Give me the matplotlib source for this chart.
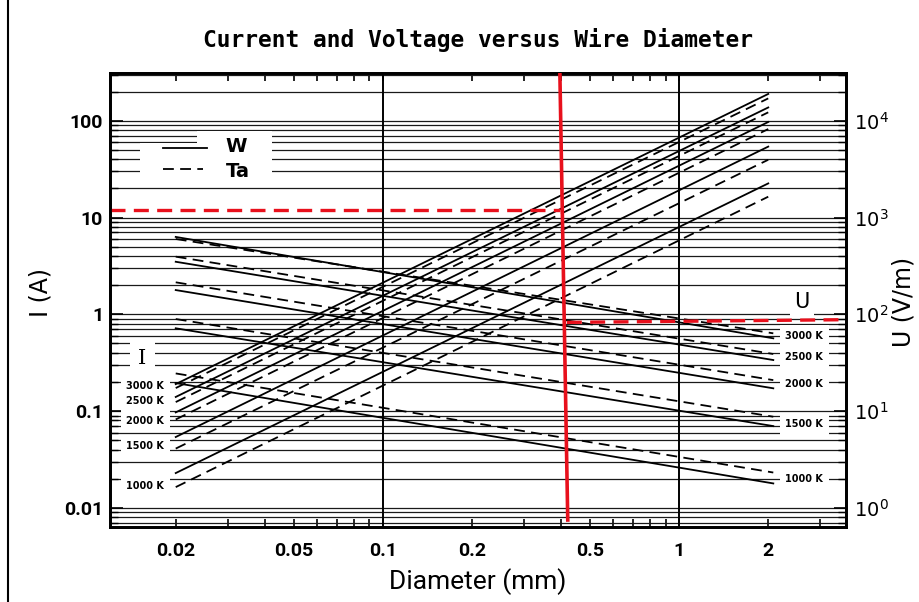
import numpy as np
import matplotlib
matplotlib.use('Agg')
import matplotlib.pyplot as plt
from matplotlib.ticker import LogLocator, NullFormatter
from matplotlib.lines import Line2D
from matplotlib.patches import Rectangle

# ---------------- data ----------------
temps = ['3000 K', '2500 K', '2000 K', '1500 K', '1000 K']

# current lines I (A): diameter end points (mm) and values at both ends
d_I = [0.02, 2.0]
I_W_start = [0.19, 0.14, 0.097, 0.054, 0.0229]
I_W_end = [189, 137, 97, 54, 22.5]
I_Ta_start = [0.173, 0.124, 0.082, 0.041, 0.0164]
I_Ta_end = [170, 122, 82, 39.5, 16.4]

# voltage lines U (V/m)
d_U = [0.02, 2.08]
U_W_start = [630, 349, 178, 71.7, 19.5]
U_W_end = [56.5, 33.7, 17.2, 7.0, 1.79]
U_Ta_start = [600, 394, 214, 89.4, 24.5]
U_Ta_end = [63.6, 38.9, 20.9, 8.75, 2.32]

# label positions (read)
I_label_d = 0.0158
I_label_vals = [0.1815, 0.127, 0.079, 0.0436, 0.0168]
U_label_d = 2.645
U_label_vals = [59.7, 36.0, 19.05, 7.31, 1.97]

# red reading marks
red_v_d = [0.396, 0.421]
red_v_I = [311, 0.0075]
red_I_d = [0.012, 0.396]
red_I_val = [12.0, 12.0]
red_U_d = [0.418, 3.66]
red_U_val = [82.5, 88.0]

x_lim = [0.012, 3.66]
y_lim = [0.00635, 311]
x_grid = [0.1, 1]
x_tick_vals = [0.02, 0.05, 0.1, 0.2, 0.5, 1, 2]
x_tick_labels = ['0.02', '0.05', '0.1', '0.2', '0.5', '1', '2']
y_tick_vals = [0.01, 0.1, 1, 10, 100]
y_tick_labels = ['0.01', '0.1', '1', '10', '100']
u_tick_vals = [1, 10, 100, 1000, 10000]
u_tick_labels = [r'$10^{0}$', r'$10^{1}$', r'$10^{2}$', r'$10^{3}$', r'$10^{4}$']

# ---------------- figure ----------------
W, H = 920, 602
fig = plt.figure(figsize=(W / 100, H / 100), dpi=100)
ax = fig.add_axes([110 / W, 75 / H, 736 / W, 454 / H])
ax.set_xscale('log')
ax.set_yscale('log')
ax.set_xlim(*x_lim)
ax.set_ylim(*y_lim)

ax2 = ax.twinx()
ax2.set_yscale('log')
ax2.set_ylim(y_lim[0] * 100, y_lim[1] * 100)

for sp in list(ax.spines.values()) + list(ax2.spines.values()):
    sp.set_linewidth(2.0)
    sp.set_color('black')

# grid
ax.set_axisbelow(True)
ax.yaxis.set_major_locator(LogLocator(base=10, numticks=20))
ax.yaxis.set_minor_locator(LogLocator(base=10, subs=np.arange(2, 10), numticks=20))
ax.yaxis.set_minor_formatter(NullFormatter())
ax.grid(True, axis='y', which='both', color='#1a1a1a', lw=0.9)
for v in x_grid:
    ax.axvline(v, color='black', lw=1.4, zorder=1)

# x ticks
ax.set_xticks(x_tick_vals)
ax.set_xticklabels(x_tick_labels, fontfamily='Roboto', fontweight='bold', fontsize=14)
ax.xaxis.set_minor_locator(LogLocator(base=10, subs=np.arange(2, 10), numticks=20))
ax.xaxis.set_minor_formatter(NullFormatter())
ax.tick_params(axis='x', which='both', direction='in', top=True, bottom=True,
               length=6, width=1.2, pad=11)

# y ticks left
ax.set_yticks(y_tick_vals)
ax.set_yticklabels(y_tick_labels, fontfamily='Roboto', fontweight='bold', fontsize=14)
ax.tick_params(axis='y', which='major', direction='in', left=True, right=False,
               length=9, width=1.2, pad=5)
ax.tick_params(axis='y', which='minor', direction='in', left=True, right=False,
               length=6, width=1.0)

# y ticks right
ax2.yaxis.set_minor_locator(LogLocator(base=10, subs=np.arange(2, 10), numticks=20))
ax2.yaxis.set_minor_formatter(NullFormatter())
ax2.set_yticks(u_tick_vals)
ax2.set_yticklabels(u_tick_labels, fontsize=14)
ax2.tick_params(axis='y', which='major', direction='in', right=True, length=9, width=1.2, pad=6)
ax2.tick_params(axis='y', which='minor', direction='in', right=True, length=6, width=1.0)

dash = (0, (6, 3.5))
for i in range(len(temps)):
    ax.plot(d_I, [I_W_start[i], I_W_end[i]], color='black', lw=1.3, zorder=4)
    ax.plot(d_I, [I_Ta_start[i], I_Ta_end[i]], color='black', lw=1.3, ls=dash, zorder=4)
    ax2.plot(d_U, [U_W_start[i], U_W_end[i]], color='black', lw=1.3, zorder=4)
    ax2.plot(d_U, [U_Ta_start[i], U_Ta_end[i]], color='black', lw=1.3, ls=dash, zorder=4)

# temperature labels
wbox = dict(facecolor='white', edgecolor='none', pad=4)
for t, v in zip(temps, I_label_vals):
    ax.text(I_label_d, v, t, ha='center', va='center', fontsize=7, fontweight='bold',
            bbox=wbox, zorder=3)
for t, v in zip(temps, U_label_vals):
    ax2.text(U_label_d, v, t, ha='center', va='center', fontsize=7, fontweight='bold',
             bbox=wbox, zorder=3)
ax.text(0.0154, 0.351, 'I', ha='center', va='center', fontsize=15, family='DejaVu Serif',
        bbox=dict(facecolor='white', edgecolor='none', pad=6), zorder=3)
ax2.text(2.60, 135, 'U', ha='center', va='center', fontsize=15,
         bbox=dict(facecolor='white', edgecolor='none', pad=3), zorder=3)

# legend
ax.add_patch(Rectangle((0.041, 0.775), 0.179, 0.071, transform=ax.transAxes,
                       facecolor='white', edgecolor='none', zorder=2))
ax.add_patch(Rectangle((0.118, 0.775), 0.102, 0.097, transform=ax.transAxes,
                       facecolor='white', edgecolor='none', zorder=2))
ax.add_line(Line2D([0.0725, 0.132], [0.8355, 0.8355], transform=ax.transAxes,
                   color='black', lw=1.3, zorder=3))
ax.add_line(Line2D([0.0725, 0.127], [0.789, 0.789], transform=ax.transAxes,
                   color='black', lw=1.3, ls=dash, zorder=3))
ax.text(0.171, 0.838, 'W', transform=ax.transAxes, ha='center', va='center', fontsize=14,
        fontweight='bold', zorder=3)
ax.text(0.174, 0.783, 'Ta', transform=ax.transAxes, ha='center', va='center', fontsize=14,
        fontweight='bold', zorder=3)

# red reading marks
red = '#e8101c'
ax2.plot(red_U_d, red_U_val, color=red, lw=2.4, ls=(0, (4.5, 2.5)), zorder=6)
ax.plot(red_I_d, red_I_val, color=red, lw=2.4, ls=(0, (4.5, 2.5)), zorder=6)
ax2.plot(red_v_d, [v * 100 for v in red_v_I], color=red, lw=2.6, zorder=7)

# titles and labels
fig.text(478 / W, 1 - 40 / H, 'Current and Voltage versus Wire Diameter',
         family='DejaVu Sans Mono', fontweight='bold', fontsize=16.5, ha='center', va='center')
fig.text(478 / W, 1 - 582 / H, 'Diameter (mm)', family='Roboto', fontsize=19,
         ha='center', va='center')
fig.text(41 / W, 1 - 292 / H, 'I (A)', family='DejaVu Sans', fontsize=17,
         rotation=90, ha='center', va='center')
fig.text(904 / W, 1 - 302 / H, 'U (V/m)', family='DejaVu Sans', fontsize=17,
         rotation=90, ha='center', va='center')

fig.add_artist(Line2D([8 / W, 8 / W], [0, 1], transform=fig.transFigure, color='black', lw=1.5))

fig.savefig('out.png', dpi=100)
